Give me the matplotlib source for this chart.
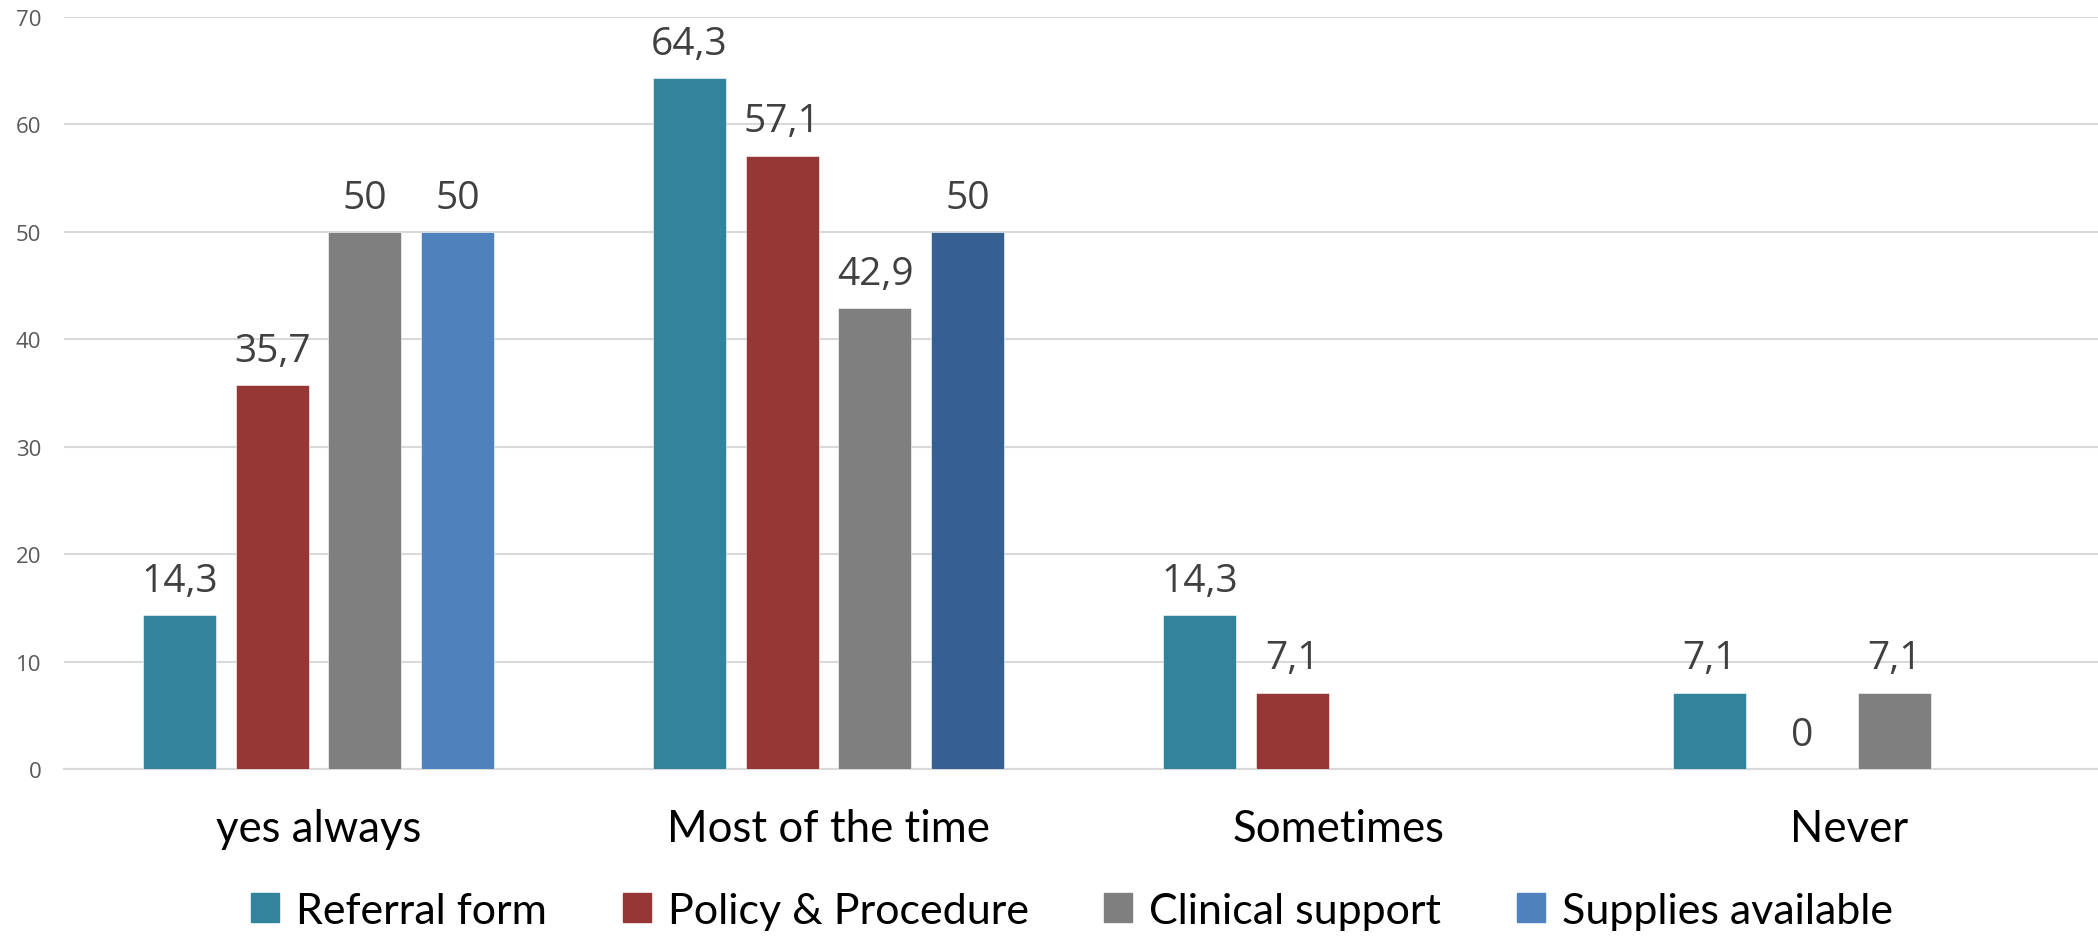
import numpy as np
import matplotlib.pyplot as plt

categories = ['yes always', 'Most of the time', 'Sometimes', 'Never']
series = ['Referral form', 'Policy & Procedure', 'Clinical support', 'Supplies available']

referral = [14.3, 64.3, 14.3, 7.1]
policy = [35.7, 57.1, 7.1, 0]
clinical = [50, 42.9, np.nan, 7.1]
supplies = [50, 50, np.nan, np.nan]

colors = ['#31849B', '#953735', '#7F7F7F', '#4F81BD']
# the "Most of the time" supplies bar is a darker blue in the original
supplies_colors = ['#4F81BD', '#376092', '#4F81BD', '#4F81BD']

def fmt(v):
    if np.isnan(v):
        return ''
    s = ('%.1f' % v).rstrip('0').rstrip('.')
    return s.replace('.', ',')

fig = plt.figure(figsize=(20.98, 9.37), dpi=100)
ax = fig.add_axes([0.0303, 0.1782, 0.9697, 0.8026])

x = np.arange(len(categories))
pitch = 0.1818
width = 0.143
all_vals = [referral, policy, clinical, supplies]

for i, vals in enumerate(all_vals):
    col = supplies_colors if i == 3 else colors[i]
    b = ax.bar(x + (i - 1.5) * pitch, vals, width, color=col, label=series[i],
               edgecolor='white', linewidth=0.4, zorder=3)
    ax.bar_label(b, labels=[fmt(v) for v in vals], padding=11,
                 fontsize=28, color='#404040', family='Open Sans')

ax.set_ylim(0, 70)
ax.set_xlim(-0.5, 3.489)
ax.set_yticks(range(0, 71, 10))
ax.yaxis.grid(True, color='#D9D9D9', linewidth=1.5, zorder=0)
for s in ['top', 'right', 'left']:
    ax.spines[s].set_visible(False)
ax.spines['bottom'].set_color('#D9D9D9')
ax.spines['bottom'].set_linewidth(1.5)
ax.tick_params(axis='y', length=0, pad=16, labelsize=16, labelcolor='#595959')
ax.tick_params(axis='x', length=0, pad=28, labelsize=31.5)
for t in ax.get_yticklabels():
    t.set_family('Open Sans')
ax.set_xticks(x)
ax.set_xticklabels(categories, family='Lato', color='black')

handles = [plt.Rectangle((0, 0), 1, 1, color=c) for c in colors]
fig.legend(handles, series, loc='center', bbox_to_anchor=(0.511, 0.027), ncol=4,
           frameon=False, prop={'family': 'Lato', 'size': 31},
           handlelength=0.65, handleheight=0.65, handletextpad=0.4, columnspacing=1.75)

fig.savefig('out.png', dpi=100)
